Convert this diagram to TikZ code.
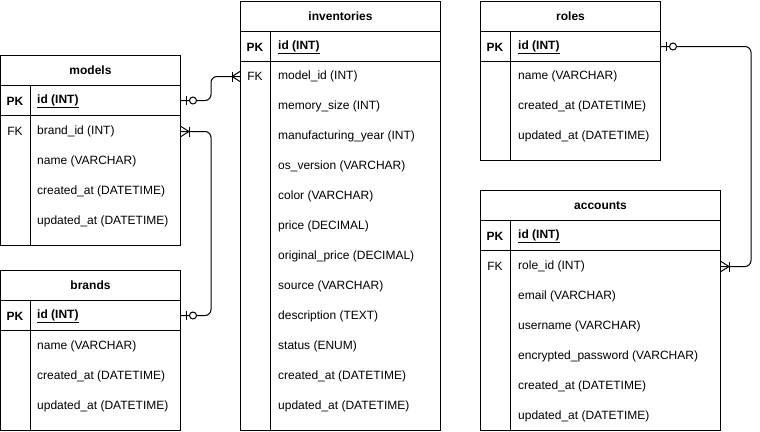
\documentclass[tikz,border=0pt]{standalone}
\usepackage{fontspec}
\setmainfont{Liberation Sans}
\usetikzlibrary{positioning}

\tikzset{
  every node/.style={font=\fontsize{12}{14}\selectfont},
  tbox/.style={draw, line width=1pt, inner sep=0pt, anchor=north west, minimum height=30pt},
  field/.style={anchor=west, inner sep=0pt, yshift=-1.5pt},
  tag/.style={inner sep=0pt, yshift=-1.5pt},
  rel/.style={line width=1pt, rounded corners=6pt},
  zeroone/.pic={
    \draw[line width=1pt] (0,0) -- (8.5,0);
    \draw[line width=1pt] (5,-4.5) -- (5,4.5);
    \draw[line width=1pt, fill=white] (12,0) circle (3.5);
  },
  onemany/.pic={
    \draw[line width=1pt] (0,-5) -- (8,0) -- (0,5);
    \draw[line width=1pt] (0,0) -- (8,0);
    \draw[line width=1pt] (8,-5) -- (8,5);
  }
}

\begin{document}
\begin{tikzpicture}[x=1pt,y=-1pt]
\useasboundingbox (0,0) rectangle (760,431);

% models
\node[tbox, minimum width=180pt] (models) at (0,55) {\bfseries models};
\node[tbox, minimum width=180pt] (models-pk) at (0,85) {};
\node[tbox, minimum width=180pt, minimum height=130pt] (models-body) at (0,115) {};
\draw[line width=1pt] (30,85) -- (30,245);
\node[tag] at (15,100) {\bfseries PK};
\node[field] (models-id) at (37,100) {\bfseries\underline{id (INT)}};
\node[tag] at (15,130) {FK};
\node[field] (models-fk) at (37,130) {brand\_id (INT)};
\foreach \f [count=\i] in {name (VARCHAR), created\_at (DATETIME), updated\_at (DATETIME)}
  \node[field] (models-f\i) at (37,130+30*\i) {\f};

% brands
\node[tbox, minimum width=180pt] (brands) at (0,270) {\bfseries brands};
\node[tbox, minimum width=180pt] (brands-pk) at (0,300) {};
\node[tbox, minimum width=180pt, minimum height=100pt] (brands-body) at (0,330) {};
\draw[line width=1pt] (30,300) -- (30,430);
\node[tag] at (15,315) {\bfseries PK};
\node[field] (brands-id) at (37,315) {\bfseries\underline{id (INT)}};
\foreach \f [count=\i] in {name (VARCHAR), created\_at (DATETIME), updated\_at (DATETIME)}
  \node[field] (brands-f\i) at (37,315+30*\i) {\f};

% inventories
\node[tbox, minimum width=200pt] (inventories) at (240,1) {\bfseries inventories};
\node[tbox, minimum width=200pt] (inventories-pk) at (240,31) {};
\node[tbox, minimum width=200pt, minimum height=369pt] (inventories-body) at (240,61) {};
\draw[line width=1pt] (270,31) -- (270,430);
\node[tag] at (255,46) {\bfseries PK};
\node[field] (inventories-id) at (278,46) {\bfseries\underline{id (INT)}};
\node[tag] at (255,75) {FK};
\node[field] (inventories-fk) at (278,75) {model\_id (INT)};
\foreach \f [count=\i] in {memory\_size (INT), manufacturing\_year (INT), os\_version (VARCHAR),
    color (VARCHAR), price (DECIMAL), original\_price (DECIMAL), source (VARCHAR),
    description (TEXT), status (ENUM), created\_at (DATETIME), updated\_at (DATETIME)}
  \node[field] (inventories-f\i) at (278,75+30*\i) {\f};

% roles
\node[tbox, minimum width=180pt] (roles) at (480,1) {\bfseries roles};
\node[tbox, minimum width=180pt] (roles-pk) at (480,31) {};
\node[tbox, minimum width=180pt, minimum height=99pt] (roles-body) at (480,61) {};
\draw[line width=1pt] (510,31) -- (510,160);
\node[tag] at (495,46) {\bfseries PK};
\node[field] (roles-id) at (518,46) {\bfseries\underline{id (INT)}};
\foreach \f [count=\i] in {name (VARCHAR), created\_at (DATETIME), updated\_at (DATETIME)}
  \node[field] (roles-f\i) at (518,45+30*\i) {\f};

% accounts
\node[tbox, minimum width=240pt] (accounts) at (480,190) {\bfseries accounts};
\node[tbox, minimum width=240pt] (accounts-pk) at (480,220) {};
\node[tbox, minimum width=240pt, minimum height=180pt] (accounts-body) at (480,250) {};
\draw[line width=1pt] (510,220) -- (510,430);
\node[tag] at (495,235) {\bfseries PK};
\node[field] (accounts-id) at (518,235) {\bfseries\underline{id (INT)}};
\node[tag] at (495,265) {FK};
\node[field] (accounts-fk) at (518,265) {role\_id (INT)};
\foreach \f [count=\i] in {email (VARCHAR), username (VARCHAR), encrypted\_password (VARCHAR),
    created\_at (DATETIME), updated\_at (DATETIME)}
  \node[field] (accounts-f\i) at (518,265+30*\i) {\f};

% relations
\draw[rel] (models-pk.east) -- ++(30,0) |- (inventories-body.west |- inventories-fk);
\draw[rel] (brands-pk.east) -- ++(30,0) |- (models-body.east |- models-fk);
\draw[rel] (roles-pk.east) -- ++(90,0) |- (accounts-body.east |- accounts-fk);

\pic at (models-pk.east) {zeroone};
\pic at (brands-pk.east) {zeroone};
\pic at (roles-pk.east) {zeroone};
\pic[xscale=-1] at (inventories-body.west |- inventories-fk) {onemany};
\pic at (models-body.east |- models-fk) {onemany};
\pic at (accounts-body.east |- accounts-fk) {onemany};
\end{tikzpicture}
\end{document}
